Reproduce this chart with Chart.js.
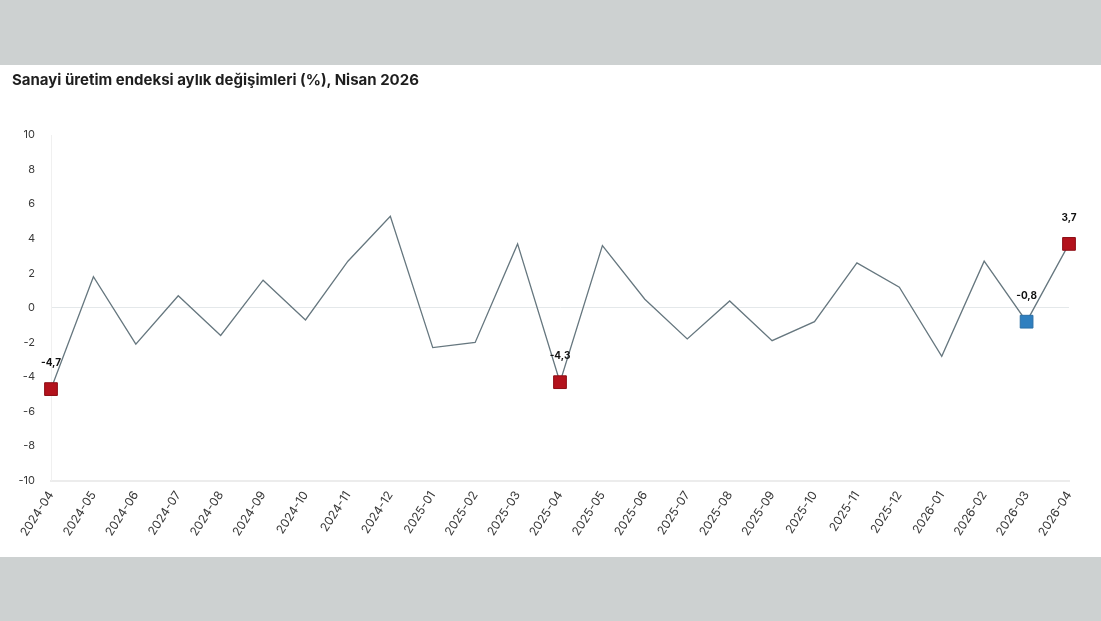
<!DOCTYPE html>
<html lang="tr">
<head>
<meta charset="utf-8">
<script src="https://cdn.jsdelivr.net/npm/chart.js@4"></script>
<style>
  html, body { margin: 0; padding: 0; }
  body { width: 1101px; height: 621px; background: #cdd1d1; position: relative; overflow: hidden; font-family: Inter, "Noto Sans", sans-serif; }
  #panel { position: absolute; left: 0; top: 65px; width: 1101px; height: 492px; background: #fff; }
  #title { position: absolute; left: 12px; top: 5px; font-size: 15px; font-weight: 700; color: #1e1e1e; }
  #wrap { position: absolute; left: 0; top: 0; width: 1101px; height: 492px; }
</style>
</head>
<body>
<div id="panel">
  <div id="wrap"><canvas id="grafik"></canvas></div>
  <div id="title">Sanayi üretim endeksi aylık değişimleri (%), Nisan 2026</div>
</div>
<script>
const aylar = ['2024-04','2024-05','2024-06','2024-07','2024-08','2024-09','2024-10','2024-11','2024-12',
  '2025-01','2025-02','2025-03','2025-04','2025-05','2025-06','2025-07','2025-08','2025-09','2025-10',
  '2025-11','2025-12','2026-01','2026-02','2026-03','2026-04'];
const degisim = [-4.7, 1.8, -2.1, 0.7, -1.6, 1.6, -0.7, 2.7, 5.3, -2.3, -2.0, 3.7, -4.3, 3.6, 0.5, -1.8,
  0.4, -1.9, -0.8, 2.6, 1.2, -2.8, 2.7, -0.8, 3.7];
// isaretli noktalar (sira no -> renk)
const isaretler = { 0: '#b3121c', 12: '#b3121c', 23: '#2f7fbf', 24: '#b3121c' };
const yTicks = [-10, -8, -6, -4, -2, 0, 2, 4, 6, 8, 10];

const etiketPlugin = {
  id: 'etiketler',
  afterDatasetsDraw(chart) {
    const ctx = chart.ctx;
    const meta = chart.getDatasetMeta(0);
    ctx.save();
    ctx.font = 'bold 10px Inter, "Noto Sans", sans-serif';
    ctx.fillStyle = '#111';
    ctx.textAlign = 'center';
    ctx.textBaseline = 'middle';
    Object.keys(isaretler).forEach(i => {
      const p = meta.data[i];
      const txt = degisim[i].toFixed(1).replace('.', ',');
      ctx.fillText(txt, p.x, p.y - 26);
    });
    ctx.restore();
  }
};

const ctx = document.getElementById('grafik').getContext('2d');
new Chart(ctx, {
  type: 'line',
  data: {
    labels: aylar,
    datasets: [{
      data: degisim,
      borderColor: '#66777f',
      borderWidth: 1.3,
      tension: 0,
      pointStyle: 'rect',
      pointRadius: degisim.map((v, i) => isaretler[i] ? 9 : 0),
      pointBackgroundColor: degisim.map((v, i) => isaretler[i] || 'transparent'),
      pointBorderColor: degisim.map((v, i) => isaretler[i] === '#2f7fbf' ? '#2a6fa6' : '#8c0d14'),
      pointBorderWidth: 1
    }]
  },
  options: {
    responsive: true,
    maintainAspectRatio: false,
    animation: false,
    layout: { padding: { top: 70, right: 32, bottom: 10, left: 0 } },
    plugins: { legend: { display: false }, tooltip: { enabled: false } },
    scales: {
      x: {
        offset: false,
        grid: { display: false, drawTicks: false },
        border: { color: '#ececec', width: 2 },
        ticks: {
          maxRotation: 57, minRotation: 57, autoSkip: false, padding: 8,
          color: '#3a3a3a', font: { size: 12, family: 'Inter, "Noto Sans", sans-serif' }
        }
      },
      y: {
        min: -10, max: 10,
        afterBuildTicks(axis) { axis.ticks = yTicks.map(v => ({ value: v })); },
        afterFit(axis) { axis.width = 51; },
        grid: {
          drawTicks: false,
          color: c => c.tick && c.tick.value === 0 ? '#e4e8ea' : 'transparent'
        },
        border: { color: '#f0f0f0', width: 1 },
        ticks: {
          padding: 16, color: '#3a3a3a',
          font: { size: 11, family: 'Inter, "Noto Sans", sans-serif' }
        }
      }
    }
  },
  plugins: [etiketPlugin]
});
</script>
</body>
</html>
